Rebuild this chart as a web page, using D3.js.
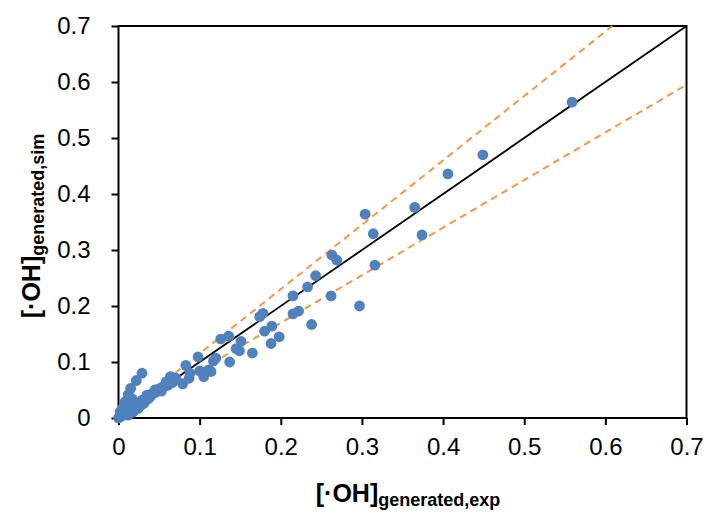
<!DOCTYPE html>
<html>
<head>
<meta charset="utf-8">
<script src="https://cdn.jsdelivr.net/npm/d3@7"></script>
<style>
	body { margin: 0; background: #fff; }
	svg text { font-family: "Liberation Sans", Arial, sans-serif; fill: #000; }
</style>
</head>
<body>
<div id="chart"></div>
<script>
// ----------------------------------
// DATA
// ----------------------------------

// [.OH] generated, experimental (x)
const ohExp = [
	0.559, 0.449, 0.406, 0.365, 0.374, 0.304, 0.314, 0.316, 0.297, 0.263,
	0.269, 0.262, 0.243, 0.233, 0.215, 0.222, 0.215, 0.238, 0.178, 0.174,
	0.189, 0.180, 0.198, 0.188, 0.136, 0.126, 0.151, 0.145, 0.149, 0.165,
	0.137, 0.120, 0.117, 0.098, 0.083, 0.111, 0.114, 0.100, 0.105, 0.088,
	0.087, 0.079, 0.064, 0.059, 0.055, 0.029, 0.022, 0.015, 0.012, 0.008,
	0.006, 0.002, 0.000, 0.051, 0.047, 0.043, 0.037, 0.035, 0.031, 0.029,
	0.024, 0.020, 0.018, 0.016, 0.012, 0.006, 0.002, 0.071, 0.066, 0.039,
	0.027, 0.010, 0.004, 0.045, 0.060, 0.053, 0.041, 0.033, 0.025, 0.014,
	0.068, 0.062, 0.017, 0.009
];

// [.OH] generated, simulated (y)
const ohSim = [
	0.564, 0.470, 0.436, 0.376, 0.327, 0.364, 0.329, 0.273, 0.200, 0.291,
	0.282, 0.218, 0.254, 0.234, 0.218, 0.191, 0.186, 0.167, 0.187, 0.181,
	0.164, 0.155, 0.145, 0.133, 0.146, 0.141, 0.137, 0.124, 0.120, 0.116,
	0.100, 0.107, 0.102, 0.109, 0.094, 0.086, 0.083, 0.084, 0.074, 0.080,
	0.071, 0.061, 0.074, 0.065, 0.056, 0.080, 0.067, 0.053, 0.042, 0.029,
	0.020, 0.011, 0.000, 0.053, 0.047, 0.044, 0.035, 0.041, 0.026, 0.032,
	0.017, 0.026, 0.011, 0.017, 0.005, 0.005, 0.002, 0.071, 0.063, 0.038,
	0.022, 0.008, 0.006, 0.050, 0.058, 0.048, 0.043, 0.030, 0.023, 0.014,
	0.066, 0.060, 0.034, 0.016
];

const tickValues = [0, 0.1, 0.2, 0.3, 0.4, 0.5, 0.6, 0.7];
const parityRatio = 1;         // y = x
const bandRatios = [1.15, 0.85]; // +/- 15 %

// ----------------------------------
// SETUP
// ----------------------------------

const width = 709,
	height = 513,
	margin = {top: 26, right: 22.5, bottom: 95, left: 118.5},
	innerWidth = width - margin.left - margin.right,
	innerHeight = height - margin.top - margin.bottom;

const svg = d3.select('#chart')
	.append('svg')
	.attr('width', width)
	.attr('height', height);

const chartInner = svg.append('g')
	.attr('transform', `translate(${margin.left}, ${margin.top})`);

const xScale = d3.scaleLinear().domain([0, 0.7]).range([0, innerWidth]);
const yScale = d3.scaleLinear().domain([0, 0.7]).range([innerHeight, 0]);

const fmt = d => d === 0 ? '0' : d3.format('.1f')(d);

// ----------------------------------
// AXES
// ----------------------------------

const xAxis = chartInner.append('g')
	.attr('transform', `translate(0, ${innerHeight})`)
	.call(d3.axisBottom(xScale).tickValues(tickValues).tickFormat(fmt).tickSize(7).tickSizeOuter(0).tickPadding(13));

const yAxis = chartInner.append('g')
	.call(d3.axisLeft(yScale).tickValues(tickValues).tickFormat(fmt).tickSize(7).tickSizeOuter(0).tickPadding(21));

[xAxis, yAxis].forEach(ax => {
	ax.select('.domain').remove();
	ax.selectAll('line').attr('stroke', '#000').attr('stroke-width', 2);
	ax.selectAll('text')
		.style('font-family', '"Liberation Sans", Arial, sans-serif')
		.style('font-size', '24px');
});

// plot frame
chartInner.append('rect')
	.attr('width', innerWidth)
	.attr('height', innerHeight)
	.attr('fill', 'none')
	.attr('stroke', '#000')
	.attr('stroke-width', 2);

// ----------------------------------
// REFERENCE LINES
// ----------------------------------

const refLine = ratio => {
	const xEnd = Math.min(0.7, 0.7 / ratio);
	return [[0, 0], [xEnd, xEnd * ratio]];
};

const line = d3.line().x(d => xScale(d[0])).y(d => yScale(d[1]));

bandRatios.forEach(r => {
	chartInner.append('path')
		.datum(refLine(r))
		.attr('d', line)
		.attr('fill', 'none')
		.attr('stroke', '#f79646')
		.attr('stroke-width', 2)
		.attr('stroke-dasharray', '7,5');
});

chartInner.append('path')
	.datum(refLine(parityRatio))
	.attr('d', line)
	.attr('fill', 'none')
	.attr('stroke', '#000')
	.attr('stroke-width', 1.8);

// ----------------------------------
// POINTS
// ----------------------------------

chartInner.append('g')
	.selectAll('circle')
	.data(ohExp.map((x, i) => ({x: x, y: ohSim[i]})))
	.join('circle')
	.attr('cx', d => xScale(d.x))
	.attr('cy', d => yScale(d.y))
	.attr('r', 5.4)
	.attr('fill', '#4f81bd');

// ----------------------------------
// TITLES
// ----------------------------------

const xTitle = svg.append('text')
	.attr('x', 408)
	.attr('y', 502)
	.attr('text-anchor', 'middle')
	.style('font-weight', 'bold')
	.style('font-size', '25px');
xTitle.append('tspan').text('[·OH]');
xTitle.append('tspan').attr('dy', 4).style('font-size', '18px').text('generated,exp');

const yTitle = svg.append('text')
	.attr('transform', 'translate(40, 226) rotate(-90)')
	.attr('text-anchor', 'middle')
	.style('font-weight', 'bold')
	.style('font-size', '25px');
yTitle.append('tspan').text('[·OH]');
yTitle.append('tspan').attr('dy', 4).style('font-size', '18px').text('generated,sim');
</script>
</body>
</html>
